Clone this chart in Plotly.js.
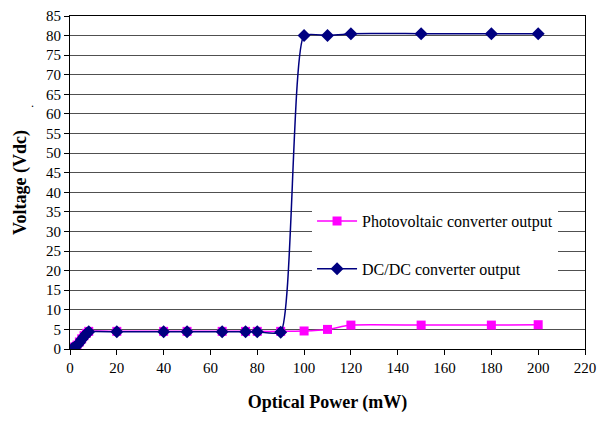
<!DOCTYPE html>
<html><head><meta charset="utf-8">
<script src="https://cdn.plot.ly/plotly-3.0.1.min.js"></script>
<style>
body{margin:0;background:#fff}
#c{width:613px;height:421px}
</style>
</head><body><div id="c"></div>
<script>
const pvPower = [1,2,3,4,5,6,7,8,20,40,50,65,75,80,90,100,110,120,150,180,200];
const pvVolt  = [0.2,0.5,1.0,1.8,2.6,3.4,4.0,4.5,4.5,4.5,4.5,4.5,4.5,4.5,4.5,4.6,5.0,6.1,6.1,6.1,6.2];
const dcPower = [1,2,3,4,5,6,7,8,20,40,50,65,75,80,90,100,110,120,150,180,200];
const dcVolt  = [0.1,0.4,0.9,1.6,2.4,3.2,3.9,4.4,4.4,4.4,4.4,4.4,4.4,4.4,4.3,80.0,80.0,80.5,80.5,80.5,80.5];
const xTicks = [0,20,40,60,80,100,120,140,160,180,200,220];
const yTicks = [0,5,10,15,20,25,30,35,40,45,50,55,60,65,70,75,80,85];

const SERIF = 'Liberation Serif, Times New Roman, serif';
const traces = [
  {x:pvPower, y:pvVolt, name:'Photovoltaic converter output', mode:'lines+markers',
   line:{color:'#FF00FF', width:1.5, shape:'spline', smoothing:0.5},
   marker:{symbol:'square', size:9, color:'#FF00FF'}, legendgroup:'a'},
  {x:dcPower, y:dcVolt, name:'DC/DC converter output', mode:'lines+markers',
   line:{color:'#000080', width:1.5, shape:'spline', smoothing:0.5},
   marker:{symbol:'diamond', size:10, color:'#000080'}, legendgroup:'b'}
];
const layout = {
  width:613, height:421,
  margin:{l:70, r:28, t:16, b:72},
  paper_bgcolor:'white', plot_bgcolor:'white',
  font:{family:SERIF, size:15, color:'black'},
  showlegend:true,
  legend:{x:0.47, y:0.435, xanchor:'left', yanchor:'top', bgcolor:'white', borderwidth:0,
          font:{family:SERIF, size:16},
          tracegroupgap:24, traceorder:'grouped', itemwidth:40},
  xaxis:{range:[0,220], tickvals:xTicks, ticktext:xTicks.map(String), ticks:'outside', ticklen:5,
         tickcolor:'black', showline:true, linecolor:'black', linewidth:1, mirror:true,
         showgrid:false, zeroline:false,
         tickfont:{family:SERIF, size:15},
         title:{text:'<b>Optical Power (mW)</b>', font:{family:SERIF, size:18}, standoff:20}},
  yaxis:{range:[0,85], tickvals:yTicks, ticktext:yTicks.map(String), ticks:'outside', ticklen:5,
         tickcolor:'black', showline:true, linecolor:'black', linewidth:1, mirror:true,
         showgrid:true, gridcolor:'#505050', gridwidth:1, zeroline:false,
         tickfont:{family:SERIF, size:15},
         title:{text:'<b>Voltage (Vdc)</b>', font:{family:SERIF, size:18}, standoff:14}},
  annotations:[{xref:'paper', yref:'paper', x:-0.08, y:0.765, text:'.', showarrow:false,
                font:{family:SERIF, size:12}}]
};
Plotly.newPlot('c', traces, layout, {staticPlot:true}).then(function(gd){
  gd.querySelectorAll('svg text').forEach(function(t){
    t.style.setProperty('font-family', SERIF, 'important');
  });
});
</script></body></html>
